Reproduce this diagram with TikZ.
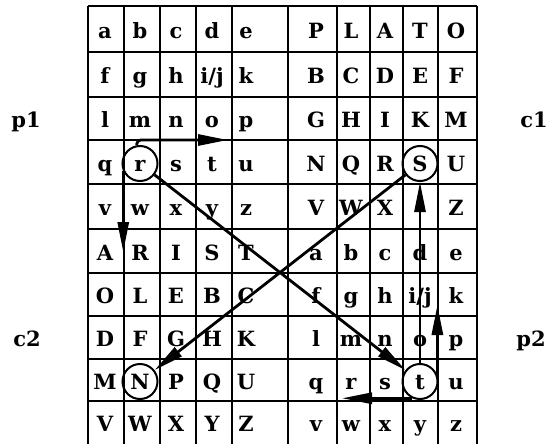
\documentclass[tikz,border=0pt]{standalone}
\usepackage{fontspec}
\setmainfont{DejaVu Serif}
\usetikzlibrary{arrows.meta}
\tikzset{gridline/.style={line width=2.5pt},
  letter/.style={font=\bfseries\fontsize{21pt}{24pt}\selectfont, inner sep=0pt, text height=15pt, text depth=0pt},
  ring/.style={draw, circle, line width=2pt, minimum size=35pt, inner sep=0pt},
  arr/.style={line width=2.8pt, -{Triangle[length=30pt,width=11pt]}}}
\def\colL{{105,140,176,212,246}}
\def\colR{{316,351,385,420,456}}
\def\rowY{{30.5,76,120,163.5,208,252.5,296,339,381.5,424}}

\begin{document}
\begin{tikzpicture}[x=1pt,y=-1pt]
\useasboundingbox (0,0) rectangle (551,444);
\foreach \x in {88,124,160,196,232,288,337,370,403,438,477}
  \draw[gridline] (\x,6) -- (\x,444);
\foreach \y in {6,52,97,140,184,229,273,316,359,401}
  \draw[gridline] (88,\y) -- (477,\y);
% the four squares
\foreach \q/\cols/\off/\rows in {
  tl/\colL/0/{{a,b,c,d,e},{f,g,h,i/j,k},{l,m,n,o,p},{q,r,s,t,u},{v,w,x,y,z}},
  tr/\colR/0/{{P,L,A,T,O},{B,C,D,E,F},{G,H,I,K,M},{N,Q,R,S,U},{V,W,X,,Z}},
  bl/\colL/5/{{A,R,I,S,T},{O,L,E,B,C},{D,F,G,H,K},{M,N,P,Q,U},{V,W,X,Y,Z}},
  br/\colR/5/{{a,b,c,d,e},{f,g,h,i/j,k},{l,m,n,o,p},{q,r,s,t,u},{v,w,x,y,z}}}
  \foreach \line [count=\i] in \rows
    \foreach \l [count=\j] in \line {
      \pgfmathsetmacro{\px}{\cols[\j-1]}
      \pgfmathsetmacro{\py}{\rowY[\i+\off-1]}
      \node[letter] (\q-\i-\j) at (\px,\py) {\l};
    }
\node[letter] (p1) at (26,120) {p1};
\node[letter] (c1) at (534,120) {c1};
\node[letter] (c2) at (27,339) {c2};
\node[letter] (p2) at (531,339) {p2};
\node[ring] (r) at (tl-4-2) {};
\node[ring] (S) at (tr-4-4) {};
\node[ring] (N) at (bl-4-2) {};
\node[ring] (t) at (br-4-4) {};
\coordinate (oend) at (228,140);
\coordinate (aend) at (124,252);
\coordinate (jend) at (437,305);
\coordinate (send) at (342,399);
\draw[arr, rounded corners=4pt] (r.100) |- (oend);
\draw[arr] (r.205) -- (r.205 |- aend);
\draw[arr] (r) -- (t);
\draw[arr] (S) -- (N);
\draw[arr] (t) -- (S);
\draw[arr] (t.20) -- (t.20 |- jend);
\draw[arr] (t.245) -- (t.245 -| send);
\end{tikzpicture}
\end{document}
